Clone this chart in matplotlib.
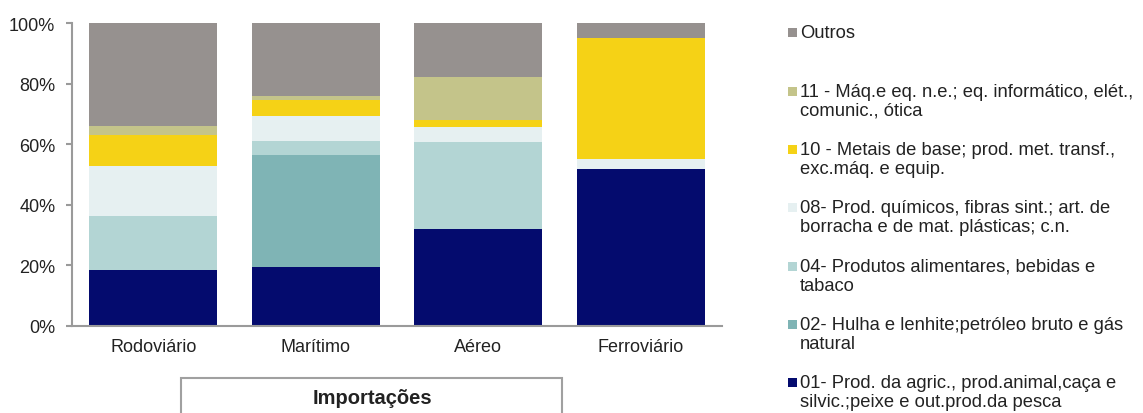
import matplotlib.pyplot as plt
from matplotlib.patches import Rectangle

plt.rcParams["font.family"] = ["Liberation Sans", "DejaVu Sans"]

# Modes of transport (x categories)
modes = ["Rodoviário", "Marítimo", "Aéreo", "Ferroviário"]

# Shares (%) per product group, bottom to top of each stacked bar
agric = [18.3, 19.3, 31.9, 51.9]
hulha = [0.0, 37.3, 0.0, 0.0]
alimentares = [17.9, 4.6, 28.9, 0.0]
quimicos = [16.6, 8.1, 4.8, 3.3]
metais = [10.2, 5.2, 2.4, 40.1]
maquinas = [3.0, 1.5, 14.4, 0.0]
outros = [34.0, 24.0, 17.6, 4.7]

series = [agric, hulha, alimentares, quimicos, metais, maquinas, outros]
labels = [
    "01- Prod. da agric., prod.animal,caça e\nsilvic.;peixe e out.prod.da pesca",
    "02- Hulha e lenhite;petróleo bruto e gás\nnatural",
    "04- Produtos alimentares, bebidas e\ntabaco",
    "08- Prod. químicos, fibras sint.; art. de\nborracha e de mat. plásticas; c.n.",
    "10 - Metais de base; prod. met. transf.,\nexc.máq. e equip.",
    "11 - Máq.e eq. n.e.; eq. informático, elét.,\ncomunic., ótica",
    "Outros",
]
colors = ["#040B6E", "#7FB4B5", "#B3D5D4", "#E6F0F1", "#F5D216", "#C4C48A", "#96918F"]

fig = plt.figure(figsize=(11.43, 4.14), dpi=100)
ax = fig.add_axes([0.063, 0.211, 0.5687, 0.730])

x = range(len(modes))
bottom = [0.0] * len(modes)
for vals, color in zip(series, colors):
    ax.bar(x, vals, width=0.79, bottom=bottom, color=color, linewidth=0)
    bottom = [b + v for b, v in zip(bottom, vals)]

ax.set_xlim(-0.5, 3.5)
ax.set_ylim(0, 100)
ax.set_yticks(range(0, 101, 20))
ax.set_yticklabels([f"{v}%" for v in range(0, 101, 20)])
ax.set_xticks(list(x))
ax.set_xticklabels(modes)

for side in ["top", "right"]:
    ax.spines[side].set_visible(False)
for side in ["left", "bottom"]:
    ax.spines[side].set_color("#9A9A9A")
    ax.spines[side].set_linewidth(1.5)
ax.tick_params(axis="y", length=4, width=1.5, color="#9A9A9A", labelsize=13,
               labelcolor="#222222", pad=8)
ax.tick_params(axis="x", length=0, labelsize=13, labelcolor="#222222", pad=9)

# Legend drawn by hand so the square lines up with the first text line
W, H = 1143, 414
legend_y = [33, 92, 150, 208, 267, 325, 383]
for ypix, lab, color in zip(legend_y, labels[::-1], colors[::-1]):
    fig.patches.append(Rectangle((788 / W, 1 - (ypix + 4.5) / H), 9 / W, 9 / H,
                                 transform=fig.transFigure, color=color, linewidth=0))
    fig.text(800 / W, 1 - (ypix - 8) / H, lab, fontsize=13.2, color="#222222",
             va="top", ha="left", linespacing=1.12)

# Title box under the chart
fig.patches.append(Rectangle((181 / W, -0.1), (562 - 181) / W, 0.1 + (H - 379) / H,
                             transform=fig.transFigure, facecolor="white",
                             edgecolor="#A0A0A0", linewidth=1.5))
fig.text(372 / W, 1 - 399 / H, "Importações", fontsize=14.5, fontweight="bold",
         color="#222222", ha="center", va="center")

fig.savefig("out.png", dpi=100)
